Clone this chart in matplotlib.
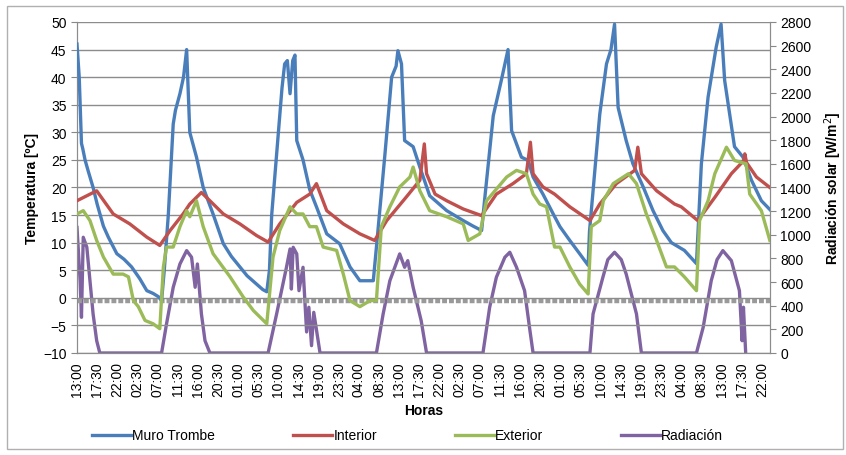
import matplotlib.pyplot as plt
from matplotlib.patches import Rectangle

plt.rcParams["font.family"] = ["Liberation Sans", "DejaVu Sans"]

# tick labels every 4.5 h starting 13:00
TICK_LABELS = [
    "13:00", "17:30", "22:00", "02:30", "07:00", "11:30", "16:00", "20:30",
    "01:00", "05:30", "10:00", "14:30", "19:00", "23:30", "04:00", "08:30",
    "13:00", "17:30", "22:00", "02:30", "07:00", "11:30", "16:00", "20:30",
    "01:00", "05:30", "10:00", "14:30", "19:00", "23:30", "04:00", "08:30",
    "13:00", "17:30", "22:00",
]
TICK_STEP = 4.5  # hours between labels

# hours since first sample (13:00) and readings
muro_h = [0, 0.5, 1.0, 1.3, 1.8, 2.5, 3.6, 4.5, 5.9, 7, 8.9, 10.5, 12.2, 14, 15.6,
          17, 18.2, 18.9, 19.5, 20.4, 21.5, 22, 23, 23.8, 24.5, 25.2, 26.7, 28.2,
          30.4, 32.7, 34.5, 36.4, 38, 40.1, 41.5, 42.4, 43, 43.5, 45, 45.8, 46.4,
          47, 47.6, 48.2, 48.7, 49.1, 50.5, 52, 53.5, 55.8, 58.7, 61, 63.2, 66.2,
          66.9, 68.8, 70.3, 71.3, 71.7, 72.5, 73.2, 75.1, 76.6, 78.8, 82.6, 86.3,
          88.5, 90.4, 91.1, 93, 94.8, 96.3, 97.1, 99.3, 100.8, 101.9, 104.1, 106.4,
          107.9, 110.1, 112.3, 114.2, 114.5, 115.3, 116.8, 118.3, 119.3, 120.1,
          120.9, 122.7, 124.2, 126.5, 128.7, 130.9, 132.8, 135.7, 138.4, 139.5,
          141, 142.8, 143.9, 144.7, 146.9, 148.8, 150.7, 152.9, 154.8]
muro = [46, 40, 28, 27, 25, 23, 20, 17, 13, 11, 8, 7, 5.6, 3.5, 1.3,
        0.8, 0.2, -0.5, 5, 15, 31.5, 34, 37, 40, 45, 30, 25.5, 20,
        15.2, 9.8, 7.5, 5.6, 4, 2.5, 1.5, 1.1, 5, 15, 30, 38, 42.4,
        43, 37, 43, 44, 28.5, 25, 19.6, 16.5, 11.6, 9.8, 5.6, 3.1, 3.1,
        9.2, 26, 40, 42, 44.8, 42.4, 28.5, 27.4, 23.7, 18.5, 15.8, 14,
        13, 12.2, 18, 33, 39.4, 45, 30.3, 25.5, 24.9, 21.9, 18.8, 15.2,
        12.9, 10.4, 8, 5.9, 12, 19.4, 33.3, 42.4, 45, 49.6,
        34.5, 28.5, 24.3, 20.1, 15.8, 12.2, 10, 8.6, 6.2, 24.3,
        36.4, 45.4, 49.6, 39.4, 27.4, 25.5, 21.3, 17.6, 16]

interior_h = [0, 4.4, 8.1, 11.8, 15.6, 18.5, 20.8, 23.7, 25.2, 27.8, 32.7, 36.4,
              40.1, 42.7, 45.3, 49.1, 52, 53.5, 55.8, 59.5, 63.2, 66.5, 69.2, 73.6,
              76.6, 77.6, 78.1, 80, 82.6, 86.3, 90.4, 93.7, 97.4, 100.4, 101.3,
              101.9, 104.1, 106.7, 110.1, 114.6, 116.8, 120.5, 124.6, 125.3, 126.1,
              129.5, 133.5, 135, 138.7, 142.5, 146.2, 149.0, 149.2, 149.6, 151.8,
              154.8]
interior = [17.6, 19.4, 15.2, 13.4, 11, 9.5, 12.2, 15.2, 17, 19.1, 15.2, 13.4,
            11.3, 10.1, 13.4, 17.3, 18.8, 20.7, 15.8, 13.4, 11.6, 10.4, 14, 18.3,
            21.3, 27.9, 22.5, 18.8, 17.6, 16.1, 14.9, 18.8, 20.7, 22.5, 28.2,
            22.5, 20.1, 18.8, 16.5, 14, 17, 20.7, 23.1, 27.3, 22.5,
            19.4, 17, 16.5, 14, 18.2, 22.5, 24.9, 26.1, 24.5, 21.9,
            20]

exterior_h = [0, 1.4, 2.9, 4.4, 5.9, 8.1, 10.3, 11.5, 12.6, 13.7, 15.2, 17, 18.5,
              19.3, 20, 21.5, 23, 24.5, 25.2, 26.7, 28.2, 30.4, 34.2, 37.1, 39.4,
              42.4, 43.8, 45.3, 47.6, 49.1, 50.5, 52, 53.5, 55, 58, 59.5, 61, 63.2,
              65.5, 66.9, 68, 69.9, 72.1, 74.4, 75.1, 76.6, 78.8, 82.6, 86.3, 87.4,
              90, 91.5, 96, 98.2, 100.4, 101.9, 103.4, 104.9, 106.7, 107.9, 110.1,
              112.3, 114.2, 114.9, 116.8, 117.6, 119.8, 123.2, 125, 127.2, 129.5,
              131.7, 133.5, 135.7, 138.4, 139.1, 141, 142.5, 145.1, 146.9, 149.5,
              150.3, 152.9, 154.8]
exterior = [15.2, 15.8, 14, 10.4, 7.4, 4.3, 4.3, 3.8, -0.5, -1.6, -4.1, -4.7, -5.6,
            5.6, 9.2, 9.2, 12.9, 15.8, 14.7, 17.6, 12.9, 8, 3.8, 0.2, -2.3,
            -4.7, 7.4, 12.2, 16.5, 15.2, 15.2, 12.9, 12.9, 9.2, 8.6, 4.3, -0.5, -1.6,
            -0.5, -0.5, 12.9, 16.5, 20.1, 21.9, 23.7, 19.4, 15.8, 14.7, 13.4, 10.4,
            11.6, 17.6, 21.9, 23.1, 22.5, 18.8, 17, 16.5, 9.2, 9.2, 5.6,
            2.5, 0.7, 12.9, 14, 17.6, 20.7, 22.5, 20.7, 15.2, 10.4,
            5.6, 5.6, 3.8, 1.3, 14, 17.6, 22.5, 27.3, 24.9, 24.3,
            18.8, 15.8, 10.4]

rad_h = [0, 0.7, 1.0, 1.4, 2.2, 2.9, 3.6, 4.4, 5.1, 18.9, 20, 21.5, 23, 24.5,
         25.6, 26.4, 26.9, 27.8, 28.6, 29.7, 42.7, 44.6, 46.8, 47.6, 47.9, 48.3,
         49.1, 49.6, 50.5, 51.3, 51.8, 52.4, 52.9, 54.3, 66.9, 68.4, 69.9, 72.1,
         73.2, 73.9, 75.1, 76.9, 78.1, 90.7, 92.2, 93.7, 95.6, 96.7, 98.2, 100,
         101.2, 101.9, 114.6, 115.3, 117.5, 118.6, 120.1, 121.6, 122.7, 125,
         126.1, 138.4, 139.9, 141.7, 143.0, 144.3, 146.2, 148, 148.6, 148.9, 149.4]
radiacion = [1062, 611, 302, 979, 894, 611, 330, 104, 0, 0, 245, 556, 753, 866,
             810, 556, 753, 330, 104, 0, 0, 330, 725, 880, 541, 894,
             838, 527, 725, 178, 387, 62, 344, 0, 0, 330, 611, 838,
             725, 781, 556, 273, 0, 0, 387, 641, 810, 852, 725, 527,
             189, 0, 0, 330, 641, 790, 852, 790, 668, 330,
             0, 0, 217, 611, 790, 866, 781, 527, 104, 387, 0]

BASELINE = -0.5  # grey dashed reference line (ºC)

fig = plt.figure(figsize=(8.46, 4.56), dpi=100)
ax = fig.add_axes([0.091, 0.2237, 0.819, 0.7259])
ax2 = ax.twinx()

ax.set_zorder(2)
ax.patch.set_visible(False)

ax.axhline(BASELINE, color="#9a9a9a", lw=3.2, ls=(0, (1.1, 0.45)), zorder=1)
l1, = ax.plot(muro_h, muro, color="#4a7ebb", lw=2.4, label="Muro Trombe", zorder=3)
l2, = ax.plot(interior_h, interior, color="#c0504d", lw=2.4, label="Interior", zorder=3)
l3, = ax.plot(exterior_h, exterior, color="#9bbb59", lw=2.4, label="Exterior", zorder=3)
l4, = ax2.plot(rad_h, radiacion, color="#8064a2", lw=2.4, label="Radiación")

ax.set_xlim(0, 154.8)
ax.set_ylim(-10, 50)
ax.set_yticks(range(-10, 51, 5))
ax2.set_ylim(0, 2800)
ax2.set_yticks(range(0, 2801, 200))

ax.set_xticks([i * TICK_STEP for i in range(len(TICK_LABELS))])
ax.set_xticklabels(TICK_LABELS, rotation=90, fontsize=10)
ax.tick_params(axis="x", length=0, pad=6)
ax.tick_params(axis="y", labelsize=10, length=4, color="#888888", direction="out")
ax2.tick_params(axis="y", labelsize=10, length=4, color="#888888", direction="out")

ax.grid(axis="y", color="#8c8c8c", lw=1)
for a in (ax, ax2):
    a.spines["top"].set_visible(False)
    for s in ("left", "right", "bottom"):
        a.spines[s].set_color("#8c8c8c")

ax.set_xlabel("Horas", fontsize=10, fontweight="bold", labelpad=5)
ax.set_ylabel("Temperatura [ºC]", fontsize=10, fontweight="bold", labelpad=3)
ax2.set_ylabel("Radiación solar [W/m$^2$]", fontsize=10, fontweight="bold", labelpad=8)

fig.legend(handles=[l1, l2, l3, l4], loc="lower center", bbox_to_anchor=(0.482, 0.0),
           ncol=4, frameon=False, fontsize=10, handlelength=2.8,
           handletextpad=0.1, columnspacing=5.6)

fig.patches.append(Rectangle((0.0083, 0.013), 0.988, 0.971, transform=fig.transFigure,
                             fill=False, edgecolor="#b0b0b0", lw=1))

plt.savefig("out.png", dpi=100)
